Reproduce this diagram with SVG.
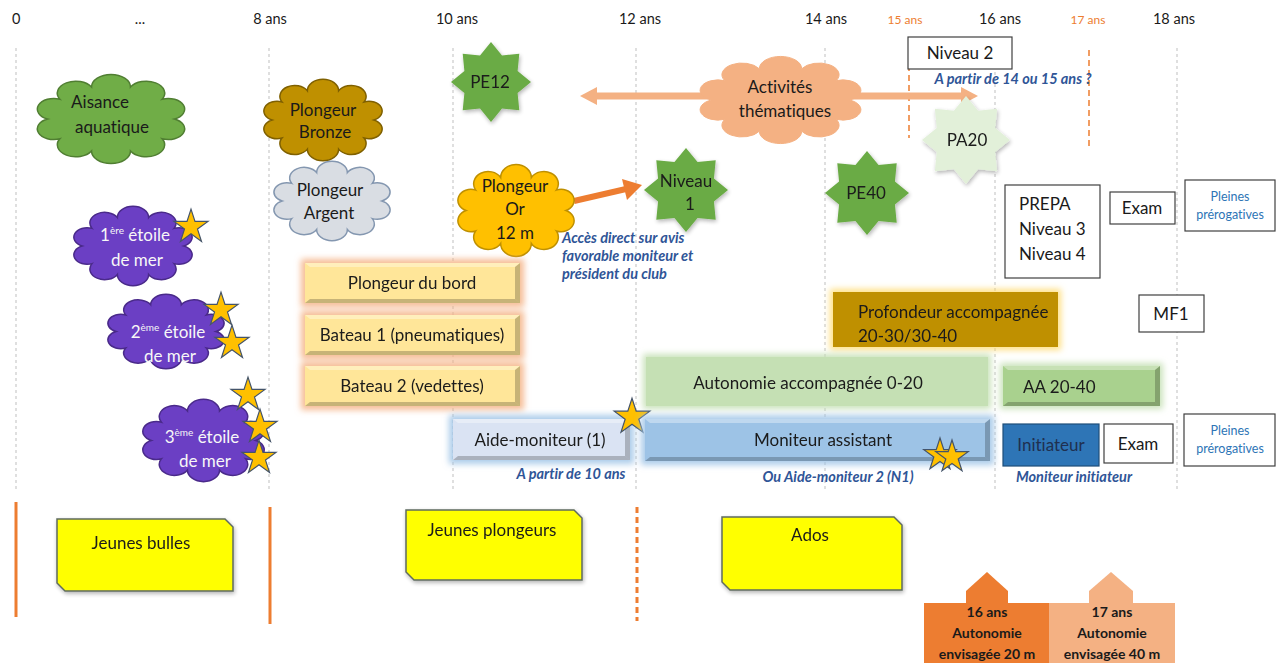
<svg xmlns="http://www.w3.org/2000/svg" width="1276" height="663" viewBox="0 0 1276 663">
<style>
.t{font-family:Lato,"Liberation Sans",sans-serif;font-size:17px;fill:#1a1a1a;font-variant-ligatures:none}
.c{text-anchor:middle}
.hdr{font-size:14.5px}
.hdo{font-size:12px;fill:#ED7D31}
.ann{font-style:italic;font-weight:bold;font-size:14.5px;fill:#2F5597}
.w{fill:#f7f7f7}
.sb{font-size:12.5px;fill:#2E75B6}
.b{font-weight:bold}
.sup{font-size:10px}
.grid{stroke:#BFBFBF;stroke-width:1;stroke-dasharray:3 3;fill:none}
.ol{stroke:#ED7D31;stroke-width:3;fill:none}
.box{fill:#fff;stroke:#404040;stroke-width:1.2}
.hl{fill:#fff;opacity:.35}
.sh{fill:#000;opacity:.22}
.star5{fill:#FFC000;stroke:#44546A;stroke-width:1.2}
.star8{fill:#6AAB45;stroke:none}
.yel{fill:#FFFF00;stroke:#5F6B5F;stroke-width:1.5}
</style>
<defs>
<path id="cloud" vector-effect="non-scaling-stroke" d="M94.6,50 A1,1 0 0 1 86,71.5 A1,1 0 0 1 63.7,84.7 A1,1 0 0 1 36.3,84.7 A1,1 0 0 1 14,71.5 A1,1 0 0 1 5.4,50 A1,1 0 0 1 14,28.5 A1,1 0 0 1 36.3,15.3 A1,1 0 0 1 63.7,15.3 A1,1 0 0 1 86,28.5 A1,1 0 0 1 94.6,50 Z"/>
<polygon id="s8" points="0,-40 11,-26.6 28.3,-28.3 26.6,-11 40,0 26.6,11 28.3,28.3 11,26.6 0,40 -11,26.6 -28.3,28.3 -26.6,11 -40,0 -26.6,-11 -28.3,-28.3 -11,-26.6"/>
<polygon id="s5" vector-effect="non-scaling-stroke" points="0,-17 3.8,-5.3 16.2,-5.3 6.2,2 10,13.8 0,6.5 -10,13.8 -6.2,2 -16.2,-5.3 -3.8,-5.3"/>
<filter id="shadow" x="-30%" y="-30%" width="160%" height="160%">
<feGaussianBlur in="SourceAlpha" stdDeviation="2"/>
<feOffset dx="1" dy="2" result="o"/>
<feComponentTransfer><feFuncA type="linear" slope="0.3"/></feComponentTransfer>
<feMerge><feMergeNode/><feMergeNode in="SourceGraphic"/></feMerge>
</filter>
<filter id="gPeach" x="-20%" y="-50%" width="140%" height="200%">
<feMorphology in="SourceAlpha" operator="dilate" radius="4" result="d"/>
<feGaussianBlur in="d" stdDeviation="3" result="bl"/>
<feFlood flood-color="#F4B183" flood-opacity="0.85"/>
<feComposite in2="bl" operator="in" result="g"/>
<feMerge><feMergeNode in="g"/><feMergeNode in="SourceGraphic"/></feMerge>
</filter>
<filter id="gBlue" x="-20%" y="-50%" width="140%" height="200%">
<feMorphology in="SourceAlpha" operator="dilate" radius="4" result="d"/>
<feGaussianBlur in="d" stdDeviation="3" result="bl"/>
<feFlood flood-color="#9DC3E6" flood-opacity="0.85"/>
<feComposite in2="bl" operator="in" result="g"/>
<feMerge><feMergeNode in="g"/><feMergeNode in="SourceGraphic"/></feMerge>
</filter>
<filter id="gGreen" x="-20%" y="-50%" width="140%" height="200%">
<feMorphology in="SourceAlpha" operator="dilate" radius="3" result="d"/>
<feGaussianBlur in="d" stdDeviation="3" result="bl"/>
<feFlood flood-color="#C5E0B4" flood-opacity="0.9"/>
<feComposite in2="bl" operator="in" result="g"/>
<feMerge><feMergeNode in="g"/><feMergeNode in="SourceGraphic"/></feMerge>
</filter>
<filter id="gGold" x="-20%" y="-50%" width="140%" height="200%">
<feMorphology in="SourceAlpha" operator="dilate" radius="3" result="d"/>
<feGaussianBlur in="d" stdDeviation="3" result="bl"/>
<feFlood flood-color="#FFD966" flood-opacity="0.8"/>
<feComposite in2="bl" operator="in" result="g"/>
<feMerge><feMergeNode in="g"/><feMergeNode in="SourceGraphic"/></feMerge>
</filter>
</defs>
<rect width="1276" height="663" fill="#fff"/>

<g id="axis">
<text class="t hdr" x="12" y="24">0</text>
<text class="t hdr c" x="140" y="24">...</text>
<text class="t hdr c" x="270" y="24">8 ans</text>
<text class="t hdr c" x="457" y="24">10 ans</text>
<text class="t hdr c" x="640" y="24">12 ans</text>
<text class="t hdr c" x="826" y="24">14 ans</text>
<text class="t hdo c" x="905" y="24">15 ans</text>
<text class="t hdr c" x="1000" y="24">16 ans</text>
<text class="t hdo c" x="1088" y="24">17 ans</text>
<text class="t hdr c" x="1174" y="24">18 ans</text>
<g class="grid">
<line x1="16" y1="48" x2="16" y2="492"/>
<line x1="269" y1="48" x2="269" y2="492"/>
<line x1="453" y1="48" x2="453" y2="492"/>
<line x1="636" y1="48" x2="636" y2="492"/>
<line x1="825" y1="48" x2="825" y2="492"/>
<line x1="995" y1="48" x2="995" y2="492"/>
<line x1="1177" y1="48" x2="1177" y2="492"/>
</g>
<line x1="909" y1="45" x2="909" y2="138" stroke="#ED7D31" stroke-width="1.5" stroke-dasharray="6 4"/>
<line x1="1089" y1="50" x2="1089" y2="146" stroke="#ED7D31" stroke-width="1.5" stroke-dasharray="6 4"/>
<line class="ol" x1="16" y1="502" x2="16" y2="617"/>
<line class="ol" x1="270" y1="507" x2="270" y2="624"/>
<line class="ol" x1="637" y1="507" x2="637" y2="621" stroke-dasharray="6 4"/>
</g>

<g id="connectors">
<line x1="594" y1="96" x2="964" y2="96" stroke="#F4B183" stroke-width="7"/>
<polygon points="580,96 597,87 597,105" fill="#F4B183"/>
<polygon points="978,96 961,87 961,105" fill="#F4B183"/>
<line x1="574" y1="201" x2="626" y2="189" stroke="#ED7D31" stroke-width="6"/>
<polygon points="642,185 622,179 627,200" fill="#ED7D31"/>
</g>

<g id="aisance">
<use href="#cloud" transform="translate(40,73) scale(1.42,0.92)" fill="#70AD47" stroke="#507E32" stroke-width="1.5"/>
<text class="t c" x="100" y="108">Aisance</text>
<text class="t c" x="112" y="133">aquatique</text>
</g>
<g id="bronze">
<use href="#cloud" transform="translate(266,78) scale(1.14,0.84)" fill="#BF9000" stroke="#7F6000" stroke-width="1.5"/>
<text class="t c" x="323" y="116">Plongeur</text>
<text class="t c" x="325" y="138">Bronze</text>
</g>
<g id="argent">
<use href="#cloud" transform="translate(276,160) scale(1.12,0.82)" fill="#D9DDE3" stroke="#8497B0" stroke-width="1.5"/>
<text class="t c" x="330" y="196">Plongeur</text>
<text class="t c" x="329" y="219">Argent</text>
</g>
<g id="or">
<use href="#cloud" transform="translate(460,163) scale(1.12,0.95)" fill="#FFC000" stroke="#BF9000" stroke-width="1.5"/>
<text class="t c" x="515" y="192">Plongeur</text>
<text class="t c" x="515" y="215">Or</text>
<text class="t c" x="515" y="239">12 m</text>
</g>
<g id="etoile1">
<use href="#cloud" transform="translate(76,205) scale(1.14,0.82)" fill="#6B3FC4" stroke="#4A2A8A" stroke-width="1.5"/>
<text class="t c w" x="135" y="241">1<tspan class="sup" dy="-7">ère</tspan><tspan dy="7"> étoile</tspan></text>
<text class="t c w" x="137" y="266">de mer</text>
<use href="#s5" class="star5" transform="translate(191,227) scale(1.05)"/>
</g>
<g id="etoile2">
<use href="#cloud" transform="translate(110,293) scale(1.12,0.77)" fill="#6B3FC4" stroke="#4A2A8A" stroke-width="1.5"/>
<text class="t c w" x="168" y="338">2<tspan class="sup" dy="-7">ème</tspan><tspan dy="7"> étoile</tspan></text>
<text class="t c w" x="170" y="362">de mer</text>
<use href="#s5" class="star5" transform="translate(221,310) scale(1.05)"/>
<use href="#s5" class="star5" transform="translate(232,343) scale(1.05)"/>
</g>
<g id="etoile3">
<use href="#cloud" transform="translate(145,398) scale(1.17,0.85)" fill="#6B3FC4" stroke="#4A2A8A" stroke-width="1.5"/>
<text class="t c w" x="202" y="443">3<tspan class="sup" dy="-7">ème</tspan><tspan dy="7"> étoile</tspan></text>
<text class="t c w" x="205" y="467">de mer</text>
<use href="#s5" class="star5" transform="translate(248,395) scale(1.05)"/>
<use href="#s5" class="star5" transform="translate(260,427) scale(1.05)"/>
<use href="#s5" class="star5" transform="translate(259,458) scale(1.05)"/>
</g>

<g id="activites">
<use href="#cloud" transform="translate(703,55) scale(1.55,0.9)" fill="#F4B183" stroke="#F4B183" stroke-width="1"/>
<text class="t c" x="780" y="93">Activités</text>
<text class="t c" x="785" y="117">thématiques</text>
</g>

<g id="pe12" filter="url(#shadow)">
<use href="#s8" class="star8" transform="translate(491,82)"/>
<text class="t c" x="490" y="88">PE12</text>
</g>
<g id="niveau1" filter="url(#shadow)">
<use href="#s8" class="star8" transform="translate(686,190) scale(1.05)"/>
<text class="t c" x="686" y="187">Niveau</text>
<text class="t c" x="690" y="210">1</text>
</g>
<g id="pe40" filter="url(#shadow)">
<use href="#s8" class="star8" transform="translate(867,193) scale(1.05)"/>
<text class="t c" x="866" y="199">PE40</text>
</g>
<g id="pa20" filter="url(#shadow)">
<use href="#s8" transform="translate(966,140) scale(1.1)" fill="#E2F0D9"/>
<text class="t c" x="967" y="146">PA20</text>
</g>

<g id="niveau2">
<rect class="box" x="908" y="37" width="104" height="32"/>
<text class="t c" x="960" y="59">Niveau 2</text>
<text class="t ann c" x="1013" y="84">A partir de 14 ou 15 ans ?</text>
</g>

<g id="acces">
<text class="t ann" x="562" y="243">Accès direct sur avis</text>
<text class="t ann" x="562" y="261">favorable moniteur et</text>
<text class="t ann" x="562" y="279">président du club</text>
</g>

<g id="prepa">
<rect class="box" x="1005" y="185" width="95" height="93"/>
<text class="t" x="1019" y="210">PREPA</text>
<text class="t" x="1019" y="235">Niveau 3</text>
<text class="t" x="1019" y="260">Niveau 4</text>
</g>
<g id="exam1">
<rect class="box" x="1110" y="192" width="65" height="32"/>
<text class="t c" x="1142" y="214">Exam</text>
</g>
<g id="pleines1">
<rect class="box" x="1185" y="180" width="90" height="51" stroke="#7F7F7F"/>
<text class="t sb c" x="1230" y="201">Pleines</text>
<text class="t sb c" x="1230" y="219">prérogatives</text>
</g>
<g id="mf1">
<rect class="box" x="1139" y="295" width="65" height="37"/>
<text class="t c" x="1171" y="320">MF1</text>
</g>

<g id="bords" filter="url(#gPeach)">
<g id="bord">
<rect x="305" y="263" width="215" height="40" fill="#FFE699"/>
<polygon class="hl" points="305,263 520,263 515,267 310,267"/>
<polygon class="sh" points="520,263 520,303 515,299 515,267"/>
<polygon class="sh" points="305,303 520,303 515,299 310,299"/>
<text class="t c" x="412" y="289">Plongeur du bord</text>
</g>
<g id="bateau1">
<rect x="305" y="315" width="215" height="40" fill="#FFE699"/>
<polygon class="hl" points="305,315 520,315 515,319 310,319"/>
<polygon class="sh" points="520,315 520,355 515,351 515,319"/>
<polygon class="sh" points="305,355 520,355 515,351 310,351"/>
<text class="t c" x="412" y="341">Bateau 1 (pneumatiques)</text>
</g>
<g id="bateau2">
<rect x="305" y="366" width="215" height="40" fill="#FFE699"/>
<polygon class="hl" points="305,366 520,366 515,370 310,370"/>
<polygon class="sh" points="520,366 520,406 515,402 515,370"/>
<polygon class="sh" points="305,406 520,406 515,402 310,402"/>
<text class="t c" x="412" y="392">Bateau 2 (vedettes)</text>
</g>
</g>

<g id="profondeur" filter="url(#gGold)">
<rect x="833" y="292" width="225" height="55" fill="#BF9000"/>
<text class="t" x="858" y="318">Profondeur accompagnée</text>
<text class="t" x="858" y="342">20-30/30-40</text>
</g>

<g id="autonomie" filter="url(#gGreen)">
<rect x="646" y="357" width="342" height="49" fill="#C5E0B4"/>
<text class="t c" x="808" y="389">Autonomie accompagnée 0-20</text>
</g>
<g id="aa2040" filter="url(#gGreen)">
<rect x="1003" y="366" width="157" height="40" fill="#A9D18E"/>
<polygon class="hl" points="1003,366 1160,366 1155,370 1008,370"/>
<polygon class="sh" points="1160,366 1160,406 1155,402 1155,370"/>
<polygon class="sh" points="1003,406 1160,406 1155,402 1008,402"/>
<text class="t" x="1023" y="393">AA 20-40</text>
</g>

<g id="aidemoniteur">
<g filter="url(#gBlue)">
<rect x="453" y="419" width="177" height="41" fill="#DAE3F3"/>
<polygon class="hl" points="453,419 630,419 625,423 458,423"/>
<polygon class="sh" points="630,419 630,460 625,456 625,423"/>
<polygon class="sh" points="453,460 630,460 625,456 458,456"/>
<text class="t c" x="540" y="446">Aide-moniteur (1)</text>
</g>
<use href="#s5" class="star5" transform="translate(632,417) scale(1.1)"/>
<text class="t ann c" x="571" y="479">A partir de 10 ans</text>
</g>

<g id="moniteurassistant">
<g filter="url(#gBlue)">
<rect x="645" y="419" width="345" height="42" fill="#9DC3E6"/>
<polygon class="hl" points="645,419 990,419 985,423 650,423"/>
<polygon class="sh" points="990,419 990,461 985,457 985,423"/>
<polygon class="sh" points="645,461 990,461 985,457 650,457"/>
<text class="t c" x="823" y="446">Moniteur assistant</text>
</g>
<use href="#s5" class="star5" transform="translate(940,455)"/>
<use href="#s5" class="star5" transform="translate(952,457)"/>
<text class="t ann c" x="838" y="482">Ou Aide-moniteur 2 (N1)</text>
</g>

<g id="initiateur">
<rect x="1003" y="424" width="96" height="42" fill="#2E75B6" stroke="#1F4E79" stroke-width="1.2"/>
<text class="t c" x="1051" y="451" style="fill:#1F3050">Initiateur</text>
<text class="t ann c" x="1074" y="482">Moniteur initiateur</text>
</g>
<g id="exam2">
<rect class="box" x="1104" y="424" width="69" height="39"/>
<text class="t c" x="1138" y="450">Exam</text>
</g>
<g id="pleines2">
<rect class="box" x="1184" y="414" width="91" height="52" stroke="#7F7F7F"/>
<text class="t sb c" x="1230" y="435">Pleines</text>
<text class="t sb c" x="1230" y="453">prérogatives</text>
</g>

<g id="jeunesbulles" filter="url(#shadow)">
<polygon class="yel" points="57,519 225,519 233,527 233,591 65,591 57,583"/>
<text class="t c" x="141" y="549">Jeunes bulles</text>
</g>
<g id="jeunesplongeurs" filter="url(#shadow)">
<polygon class="yel" points="406,510 574,510 582,518 582,580 414,580 406,572"/>
<text class="t c" x="492" y="536">Jeunes plongeurs</text>
</g>
<g id="ados" filter="url(#shadow)">
<polygon class="yel" points="722,517 894,517 902,525 902,590 730,590 722,582"/>
<text class="t c" x="810" y="541">Ados</text>
</g>

<g id="auto16">
<polygon points="966,604 966,591 987,572 1008,591 1008,604" fill="#ED7D31"/>
<rect x="924" y="603" width="125" height="60" fill="#ED7D31"/>
<text class="t c b" x="987" y="617" style="font-size:14px">16 ans</text>
<text class="t c b" x="987" y="638" style="font-size:14px">Autonomie</text>
<text class="t c b" x="987" y="659" style="font-size:14px">envisagée 20 m</text>
</g>
<g id="auto17">
<polygon points="1089,604 1089,591 1111,572 1133,591 1133,604" fill="#F4B183"/>
<rect x="1049" y="603" width="126" height="60" fill="#F4B183"/>
<text class="t c b" x="1112" y="617" style="font-size:14px">17 ans</text>
<text class="t c b" x="1112" y="638" style="font-size:14px">Autonomie</text>
<text class="t c b" x="1112" y="659" style="font-size:14px">envisagée 40 m</text>
</g>
</svg>
